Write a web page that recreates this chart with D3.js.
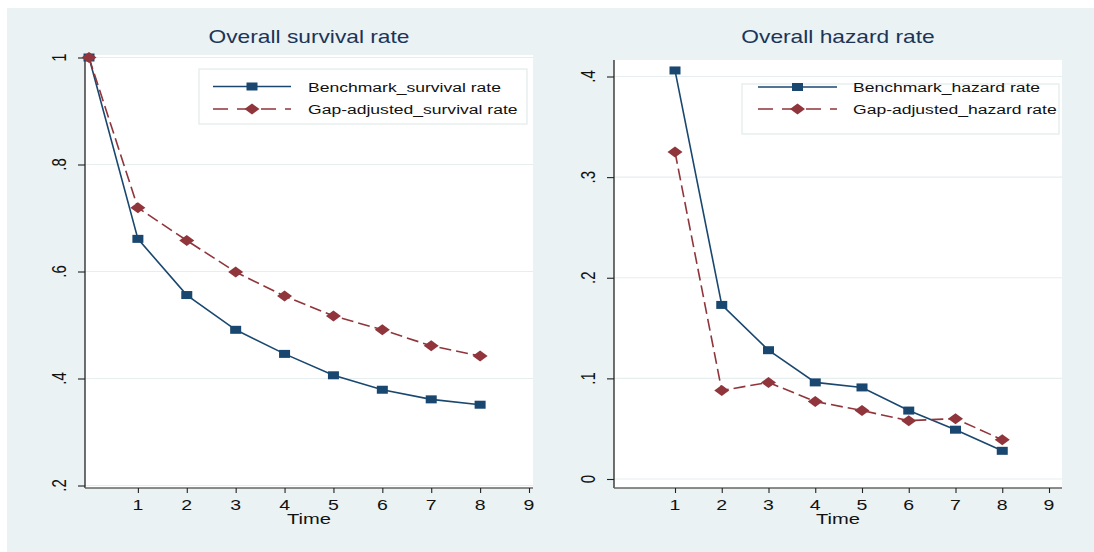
<!DOCTYPE html>
<html>
<head>
<meta charset="utf-8">
<script src="https://cdn.jsdelivr.net/npm/d3@7"></script>
<style>
  html, body { margin: 0; padding: 0; background: #ffffff; }
  svg { display: block; }
  text { font-family: "Liberation Sans", Arial, sans-serif; }
</style>
</head>
<body>
<svg id="chart" width="1094" height="552"></svg>
<script>
// ---- Data ----
const survivalTime = [0, 1, 2, 3, 4, 5, 6, 7, 8];
const benchmarkSurvival = [1.0, 0.661, 0.556, 0.491, 0.446, 0.406, 0.379, 0.361, 0.351];
const gapSurvival = [1.0, 0.719, 0.658, 0.599, 0.554, 0.517, 0.491, 0.461, 0.442];

const hazardTime = [1, 2, 3, 4, 5, 6, 7, 8];
const benchmarkHazard = [0.406, 0.173, 0.128, 0.096, 0.091, 0.068, 0.049, 0.028];
const gapHazard = [0.325, 0.088, 0.096, 0.077, 0.068, 0.058, 0.060, 0.039];

const xTicks = [1, 2, 3, 4, 5, 6, 7, 8, 9];
const survivalYTicks = [0.2, 0.4, 0.6, 0.8, 1];
const hazardYTicks = [0, 0.1, 0.2, 0.3, 0.4];

const survivalLabels = ["Benchmark_survival rate", "Gap-adjusted_survival rate"];
const hazardLabels = ["Benchmark_hazard rate", "Gap-adjusted_hazard rate"];
const titles = ["Overall survival rate", "Overall hazard rate"];
const xTitle = "Time";

// ---- Styles ----
const NAVY = "#1a476f", MAROON = "#90353b";
const BG = "#eaf2f3", GRID = "#e6eef0";
const SX = 1.3; // horizontal stretch of the original picture

const svg = d3.select("#chart");
svg.append("rect").attr("x", 7).attr("y", 8).attr("width", 1087).attr("height", 544).attr("fill", BG);

function fmt(v) {
  if (v === 0) return "0";
  if (v === 1) return "1";
  return String(v).replace(/^0/, "");
}

function stretchedText(g, x, y, str, size, anchor, color, rotate) {
  return g.append("text")
    .attr("transform", `translate(${x},${y}) scale(${SX},1)` + (rotate ? " rotate(-90)" : ""))
    .attr("text-anchor", anchor)
    .attr("font-size", size)
    .attr("fill", color)
    .text(str);
}

function square(g, x, y, color) {
  g.append("rect").attr("x", x - 5.5).attr("y", y - 4).attr("width", 11).attr("height", 8)
    .attr("fill", color);
}
function diamond(g, x, y, color) {
  g.append("path")
    .attr("d", `M${x - 7.5},${y} L${x},${y - 5.5} L${x + 7.5},${y} L${x},${y + 5.5} Z`)
    .attr("fill", color);
}

function panel(cfg) {
  const g = svg.append("g");
  const x = d3.scaleLinear().domain(cfg.xDomain).range(cfg.xRange);
  const y = d3.scaleLinear().domain(cfg.yDomain).range(cfg.yRange);
  const [L, R] = [cfg.plot.left, cfg.plot.right];
  const [T, B] = [cfg.plot.top, cfg.plot.bottom];

  g.append("rect").attr("x", L).attr("y", T).attr("width", R - L).attr("height", B - T).attr("fill", "#ffffff");

  g.append("g").selectAll("line").data(cfg.yTicks).join("line")
    .attr("x1", L).attr("x2", R)
    .attr("y1", d => y(d)).attr("y2", d => y(d))
    .attr("stroke", GRID).attr("stroke-width", 1.2);

  const yAxis = d3.axisLeft(y).tickValues(cfg.yTicks).tickSize(7).tickFormat("");
  const ya = g.append("g").attr("transform", `translate(${L},0)`).call(yAxis);
  ya.select(".domain").attr("d", `M0,${T}V${B}`).attr("stroke", "#222").attr("stroke-width", 1.3);
  ya.selectAll(".tick line").attr("stroke", "#222").attr("stroke-width", 1.1);
  cfg.yTicks.forEach(v => {
    stretchedText(g, L - 19, y(v), fmt(v), 15, "middle", "#111", true);
  });

  const xAxis = d3.axisBottom(x).tickValues(xTicks).tickSize(5).tickFormat("");
  const xa = g.append("g").attr("transform", `translate(0,${B})`).call(xAxis);
  xa.select(".domain").attr("d", `M${L},0H${R}`).attr("stroke", "#666").attr("stroke-width", 1.5);
  xa.selectAll(".tick line").attr("stroke", "#222").attr("stroke-width", 1.1);
  xTicks.forEach(v => {
    stretchedText(g, x(v), B + 22, String(v), 15, "middle", "#111", false);
  });
  stretchedText(g, (L + R) / 2, B + 36, xTitle, 15.5, "middle", "#111", false);

  stretchedText(g, (L + R) / 2, 43, cfg.title, 17.5, "middle", "#1b3558", false);

  const line = d3.line().x(d => x(d[0])).y(d => y(d[1]));
  const s1 = cfg.time.map((t, i) => [t, cfg.bench[i]]);
  const s2 = cfg.time.map((t, i) => [t, cfg.gap[i]]);
  g.append("path").attr("d", line(s1)).attr("fill", "none").attr("stroke", NAVY).attr("stroke-width", 1.6);
  s1.forEach(d => square(g, x(d[0]), y(d[1]), NAVY));
  g.append("path").attr("d", line(s2)).attr("fill", "none").attr("stroke", MAROON)
    .attr("stroke-width", 1.6).attr("stroke-dasharray", "12,5");
  s2.forEach(d => diamond(g, x(d[0]), y(d[1]), MAROON));

  const lg = cfg.legend;
  g.append("rect").attr("x", lg.x0).attr("y", lg.y0).attr("width", lg.x1 - lg.x0).attr("height", lg.y1 - lg.y0)
    .attr("fill", "#ffffff").attr("stroke", "#e1eaec").attr("stroke-width", 1.2);
  [lg.r1, lg.r2].forEach((ry, i) => {
    const lx0 = lg.lineX0, lx1 = lg.lineX1, mx = (lx0 + lx1) / 2;
    g.append("line").attr("x1", lx0).attr("x2", lx1).attr("y1", ry).attr("y2", ry)
      .attr("stroke", i === 0 ? NAVY : MAROON).attr("stroke-width", 1.6)
      .attr("stroke-dasharray", i === 0 ? null : "15,9");
    if (i === 0) square(g, mx, ry, NAVY); else diamond(g, mx, ry, MAROON);
    stretchedText(g, lg.textX, ry + 5, cfg.labels[i], 13.5, "start", "#111", false);
  });
}

panel({
  title: titles[0], labels: survivalLabels,
  time: survivalTime, bench: benchmarkSurvival, gap: gapSurvival,
  xDomain: [0, 9], xRange: [89, 529],
  yDomain: [0.2, 1], yRange: [485.5, 57.5],
  yTicks: survivalYTicks,
  plot: { left: 85, right: 533, top: 55, bottom: 488 },
  legend: { x0: 199, x1: 527, y0: 69, y1: 124, r1: 86.5, r2: 109, lineX0: 213, lineX1: 291, textX: 308 }
});

panel({
  title: titles[1], labels: hazardLabels,
  time: hazardTime, bench: benchmarkHazard, gap: gapHazard,
  xDomain: [1, 9], xRange: [675, 1049],
  yDomain: [0, 0.4], yRange: [479, 76.5],
  yTicks: hazardYTicks,
  plot: { left: 614, right: 1062, top: 60, bottom: 488 },
  legend: { x0: 742, x1: 1059, y0: 84, y1: 134, r1: 87, r2: 109, lineX0: 758, lineX1: 837, textX: 853 }
});
</script>
</body>
</html>
